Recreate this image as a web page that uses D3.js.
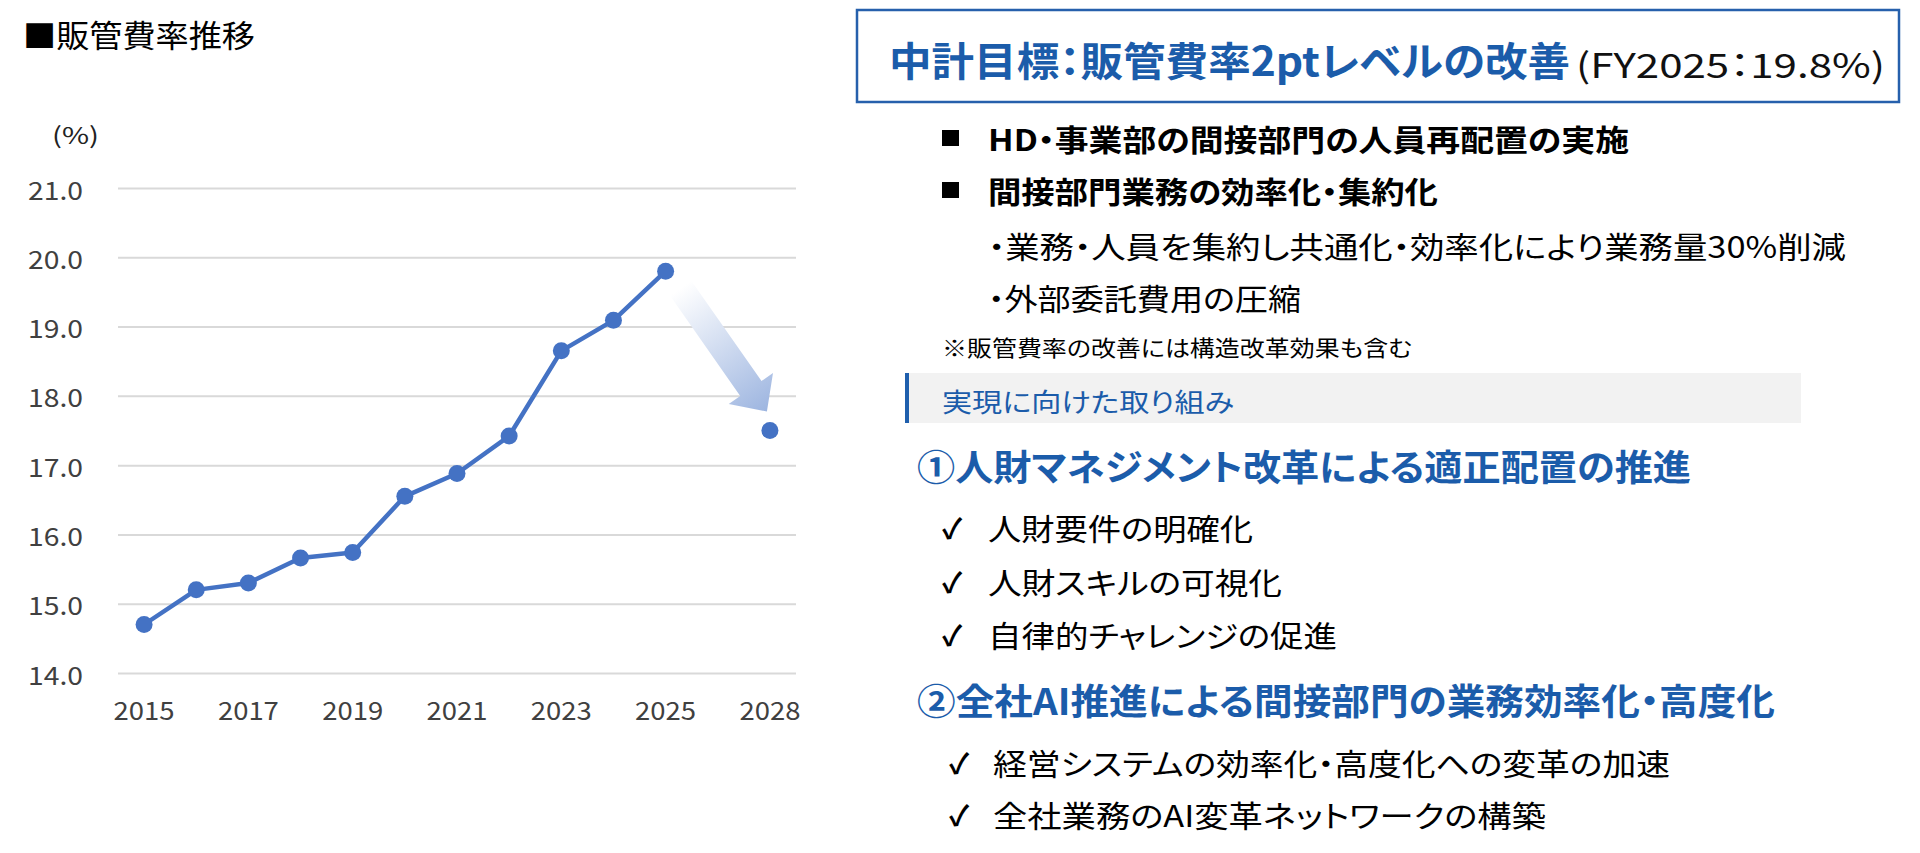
<!DOCTYPE html>
<html><head><meta charset="utf-8">
<script src="https://cdn.jsdelivr.net/npm/d3@7"></script>
<style>
html,body{margin:0;padding:0;background:#fff;}
svg{display:block;font-family:"Noto Sans CJK JP","Noto Sans",sans-serif;}
svg text.p{font-feature-settings:"palt" 1;}
</style></head>
<body>
<svg id="c" width="1920" height="853"></svg>
<script>
// ---- data ----
const categories = ["2015","2016","2017","2018","2019","2020","2021","2022","2023","2024","2025","","2028"];
const values = [14.7,15.2,15.3,15.66,15.74,16.55,16.88,17.42,18.65,19.09,19.8,null,17.5];
const xTickLabels = ["2015","2017","2019","2021","2023","2025","2028"];
const yTicks = [14,15,16,17,18,19,20,21];
const chartTitle = "■販管費率推移";
const unitLabel = "(%)";
const boxTitle = "中計目標：販管費率2ptレベルの改善";
const boxSub = "(FY2025：19.8%)";
const mainBullets = ["HD・事業部の間接部門の人員再配置の実施","間接部門業務の効率化・集約化"];
const subBullets = ["・業務・人員を集約し共通化・効率化により業務量30%削減","・外部委託費用の圧縮"];
const note = "※販管費率の改善には構造改革効果も含む";
const bandLabel = "実現に向けた取り組み";
const heading1 = "①人財マネジメント改革による適正配置の推進";
const checks1 = ["人財要件の明確化","人財スキルの可視化","自律的チャレンジの促進"];
const heading2 = "②全社AI推進による間接部門の業務効率化・高度化";
const checks2 = ["経営システムの効率化・高度化への変革の加速","全社業務のAI変革ネットワークの構築"];

const svg = d3.select("#c");
const BLUE = "#4472C4", NAVY = "#1B5CAA";

// ---- chart ----
const x = d3.scaleBand().domain(categories).range([118,796]);
const xc = d => x(d) + x.bandwidth()/2;
const y = d3.scaleLinear().domain([14,21]).range([673,188]);

function txt(g, s, px, py, size, opts={}) {
  const t = g.append("text").attr("class","p").attr("x",px).attr("y",py)
    .attr("dominant-baseline","central")
    .attr("font-size",size)
    .attr("fill",opts.fill||"#000")
    .attr("font-weight",opts.bold?"bold":"normal")
    .attr("text-anchor",opts.anchor||"start")
    .text(s);
  if (opts.w) t.attr("textLength",opts.w).attr("lengthAdjust","spacingAndGlyphs");
  return t;
}

txt(svg, chartTitle, 23, 33, 31, {w:232});
txt(svg, unitLabel, 52, 134, 23, {fill:"#222", w:47});

const yAxis = svg.append("g").attr("transform","translate(118,0)")
  .call(d3.axisLeft(y).tickValues(yTicks).tickFormat(d3.format(".1f"))
        .tickSize(-(796-118)).tickPadding(35));
yAxis.select(".domain").remove();
yAxis.selectAll(".tick line").attr("stroke","#D9D9D9").attr("stroke-width",2);
yAxis.selectAll(".tick text").attr("font-size",25).attr("fill","#404040")
  .attr("font-family","'Noto Sans CJK JP',sans-serif")
  .attr("dy",null).attr("dominant-baseline","central")
  .attr("textLength",55).attr("lengthAdjust","spacingAndGlyphs");

const xAxis = svg.append("g").attr("transform","translate(0,673)")
  .call(d3.axisBottom(x).tickValues(xTickLabels).tickSize(0).tickPadding(0));
xAxis.select(".domain").remove();
xAxis.selectAll(".tick text").attr("font-size",25).attr("fill","#404040")
  .attr("font-family","'Noto Sans CJK JP',sans-serif")
  .attr("y",36).attr("dy",null).attr("dominant-baseline","central")
  .attr("textLength",61).attr("lengthAdjust","spacingAndGlyphs");

// arrow annotation (from 2025 value toward 2028 target)
const S = [xc("2025")+15, y(19.8)+17];
const T = [xc("2028")-3, y(17.5)-19];
{
  const dx=T[0]-S[0], dy=T[1]-S[1], L=Math.hypot(dx,dy);
  const ux=dx/L, uy=dy/L, nx=-uy, ny=ux;
  const sw=13, hw=27, hl=28;
  const B=[T[0]-ux*hl, T[1]-uy*hl];
  const pts=[[S[0]+nx*sw,S[1]+ny*sw],[B[0]+nx*sw,B[1]+ny*sw],[B[0]+nx*hw,B[1]+ny*hw],T,
             [B[0]-nx*hw,B[1]-ny*hw],[B[0]-nx*sw,B[1]-ny*sw],[S[0]-nx*sw,S[1]-ny*sw]];
  const grad = svg.append("defs").append("linearGradient").attr("id","ag")
    .attr("gradientUnits","userSpaceOnUse")
    .attr("x1",S[0]).attr("y1",S[1]).attr("x2",T[0]).attr("y2",T[1]);
  grad.append("stop").attr("offset","0").attr("stop-color","#ffffff");
  grad.append("stop").attr("offset","1").attr("stop-color","#9DB5E0");
  svg.append("path").attr("d","M"+pts.map(p=>p.join(",")).join("L")+"Z").attr("fill","url(#ag)");
}

const line = d3.line().defined(d=>d.v!=null).x(d=>xc(d.c)).y(d=>y(d.v));
const pts = categories.map((c,i)=>({c, v:values[i]}));
svg.append("path").datum(pts).attr("d",line).attr("fill","none")
  .attr("stroke",BLUE).attr("stroke-width",4.5).attr("stroke-linejoin","round");
svg.selectAll("circle.pt").data(pts.filter(d=>d.v!=null)).join("circle")
  .attr("class","pt").attr("cx",d=>xc(d.c)).attr("cy",d=>y(d.v)).attr("r",8.5).attr("fill",BLUE);

// ---- right panel ----
svg.append("rect").attr("x",857).attr("y",10).attr("width",1042).attr("height",92)
  .attr("fill","#fff").attr("stroke","#2660AC").attr("stroke-width",2.5);
txt(svg, boxTitle, 889, 59, 40, {fill:NAVY, bold:true, w:681});
txt(svg, boxSub, 1576, 63, 34, {fill:"#111", w:309});

const mainY=[138,190];
mainBullets.forEach((s,i)=>{
  svg.append("rect").attr("x",942).attr("y",mainY[i]-8).attr("width",17).attr("height",16).attr("fill","#000");
});
txt(svg, mainBullets[0], 988, 138, 30, {bold:true, w:641});
txt(svg, mainBullets[1], 988, 190, 30, {bold:true, w:450});
txt(svg, subBullets[0], 988, 245, 30, {w:858});
txt(svg, subBullets[1], 988, 297, 30, {w:313});
txt(svg, note, 942, 346, 22, {w:470});

svg.append("rect").attr("x",905).attr("y",373).attr("width",896).attr("height",50).attr("fill","#F2F2F2");
svg.append("rect").attr("x",905).attr("y",373).attr("width",4).attr("height",50).attr("fill","#1F5FAD");
txt(svg, bandLabel, 942, 400, 26, {fill:NAVY, w:292});

txt(svg, heading1, 917, 465, 36, {fill:NAVY, bold:true, w:774});
const c1Y=[527,581,634], c1W=[265,294,349];
checks1.forEach((s,i)=>{
  txt(svg, "✓", 942, c1Y[i], 28, {fill:"#000", bold:true});
  txt(svg, s, 988, c1Y[i], 30, {w:c1W[i]});
});
txt(svg, heading2, 917, 699, 36, {fill:NAVY, bold:true, w:858});
const c2Y=[762,814], c2W=[677,553];
checks2.forEach((s,i)=>{
  txt(svg, "✓", 949, c2Y[i], 28, {fill:"#000", bold:true});
  txt(svg, s, 993, c2Y[i], 30, {w:c2W[i]});
});
</script>
</body></html>
